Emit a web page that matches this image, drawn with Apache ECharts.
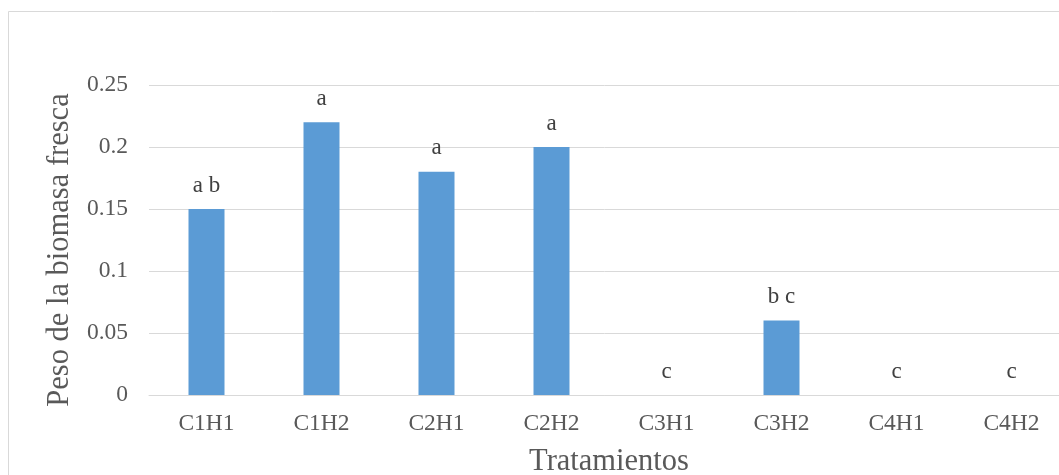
<!DOCTYPE html>
<html>
<head>
<meta charset="utf-8">
<script src="https://cdn.jsdelivr.net/npm/echarts@6/dist/echarts.min.js"></script>
<style>
html,body{margin:0;padding:0;background:#fff;}
#chart{width:1059px;height:475px;}
</style>
</head>
<body>
<div id="chart"></div>
<script>
var categories = ['C1H1','C1H2','C2H1','C2H2','C3H1','C3H2','C4H1','C4H2'];
var values = [0.15, 0.22, 0.18, 0.20, 0, 0.06, 0, 0];
var letters = ['a b','a','a','a','c','b c','c','c'];
var yTicks = [0, 0.05, 0.1, 0.15, 0.2, 0.25];
var xTitle = 'Tratamientos';
var yTitle = 'Peso de la biomasa fresca';

var FONT = "'Liberation Serif', 'Times New Roman', serif";
var chart = echarts.init(document.getElementById('chart'), null, {renderer:'canvas'});
chart.setOption({
  animation: false,
  backgroundColor: '#ffffff',
  graphic: [{
    type: 'rect', silent: true, z: -10,
    shape: {x: 8.5, y: 11.5, width: 1200, height: 600},
    style: {fill: 'none', stroke: '#d9d9d9', lineWidth: 1}
  }],
  grid: {left: 149, top: 85, width: 920, height: 310, containLabel: false, outerBoundsMode: 'none'},
  xAxis: {
    type: 'category',
    data: categories,
    boundaryGap: true,
    axisLine: {show: true, lineStyle: {color: '#d9d9d9', width: 1}},
    axisTick: {show: false},
    axisLabel: {color: '#595959', fontFamily: FONT, fontSize: 23.5, margin: 17},
    name: xTitle,
    nameLocation: 'middle',
    nameGap: 51,
    nameTextStyle: {color: '#595959', fontFamily: FONT, fontSize: 30.5}
  },
  yAxis: {
    type: 'value',
    min: 0, max: 0.25, interval: 0.05,
    axisLine: {show: false},
    axisTick: {show: false},
    splitLine: {lineStyle: {color: '#d9d9d9', width: 1}},
    axisLabel: {
      color: '#595959', fontFamily: FONT, fontSize: 23.5, margin: 21,
      formatter: function (v) {
        for (var i = 0; i < yTicks.length; i++) {
          if (Math.abs(yTicks[i] - v) < 1e-9) return String(yTicks[i]);
        }
        return '';
      }
    },
    name: yTitle,
    nameLocation: 'middle',
    nameGap: 70,
    nameTextStyle: {color: '#595959', fontFamily: FONT, fontSize: 30.5, padding: [0, 20, 0, 0]}
  },
  series: [{
    type: 'bar',
    data: values,
    barWidth: 36,
    itemStyle: {color: '#5b9bd5'},
    label: {
      show: true,
      position: 'top',
      distance: 12,
      color: '#404040',
      fontFamily: FONT,
      fontSize: 23,
      formatter: function (p) { return letters[p.dataIndex]; }
    }
  }]
});
</script>
</body>
</html>
